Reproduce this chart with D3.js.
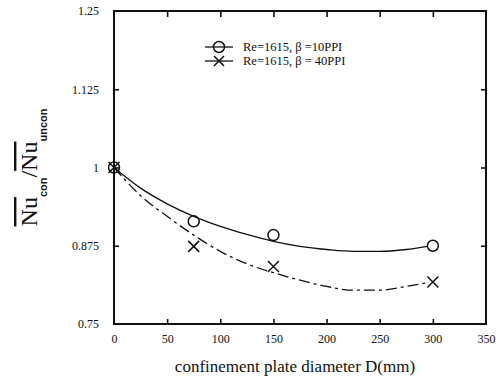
<!DOCTYPE html>
<html>
<head>
<meta charset="utf-8">
<script src="https://cdn.jsdelivr.net/npm/d3@7"></script>
<style>
  body { margin: 0; background: #fff; }
  svg text { font-family: 'Liberation Serif', 'Times New Roman', serif; fill: #111; }
</style>
</head>
<body>
<svg id="chart" width="503" height="380"></svg>
<script>
// measured points
const diameters = [0, 75, 150, 300]
const nu10ppi = [1.0, 0.914, 0.892, 0.875]
const nu40ppi = [1.0, 0.874, 0.842, 0.817]

// fitted trend lines
const fitD = [0, 25, 50, 75, 100, 125, 150, 175, 200, 225, 250, 275, 295]
const fit10ppi = [1.0, 0.967, 0.942, 0.922, 0.906, 0.893, 0.882, 0.874, 0.869, 0.866, 0.866, 0.869, 0.874]
const fit40ppi = [1.0, 0.955, 0.922, 0.892, 0.866, 0.846, 0.832, 0.820, 0.810, 0.804, 0.804, 0.810, 0.816]

const xTicks = [0, 50, 100, 150, 200, 250, 300, 350]
const yTicks = [0.75, 0.875, 1.0, 1.125, 1.25]
const yTickLabels = ['0.75', '0.875', '1', '1.125', '1.25']
const legendLabels = ['Re=1615, \u03B2 =10PPI', 'Re=1615, \u03B2 = 40PPI']

const margin = { left: 114, top: 11, right: 17, bottom: 56 }
const width = 503 - margin.left - margin.right
const height = 380 - margin.top - margin.bottom

const svg = d3.select('#chart')
const g = svg.append('g')
  .attr('transform', `translate(${margin.left}, ${margin.top})`)

const xScale = d3.scaleLinear().domain([0, 350]).range([0, width])
const yScale = d3.scaleLinear().domain([0.75, 1.25]).range([height, 0])

// axes, ticks pointing inward
const inner = [50, 100, 150, 200, 250, 300]
g.append('g')
  .attr('class', 'x axis')
  .attr('transform', `translate(0, ${height})`)
  .call(d3.axisBottom(xScale).tickValues(xTicks).tickSize(0).tickPadding(10))
  .call(a => a.select('.domain').remove())
  .selectAll('text').style('font-size', '12px')
g.append('g')
  .attr('transform', `translate(0, ${height})`)
  .call(d3.axisBottom(xScale).tickValues(inner).tickSize(-5).tickFormat(''))
  .call(a => a.select('.domain').remove())
g.append('g')
  .call(d3.axisTop(xScale).tickValues(inner).tickSize(-6).tickFormat(''))
  .call(a => a.select('.domain').remove())

g.append('g')
  .attr('class', 'y axis')
  .call(d3.axisLeft(yScale).tickValues(yTicks).tickSize(0).tickPadding(15)
    .tickFormat((d, i) => yTickLabels[i]))
  .call(a => a.select('.domain').remove())
  .selectAll('text').style('font-size', '12px')
g.append('g')
  .call(d3.axisLeft(yScale).tickValues([0.875, 1.0, 1.125]).tickSize(-5).tickFormat(''))
  .call(a => a.select('.domain').remove())
g.append('g')
  .attr('transform', `translate(${width}, 0)`)
  .call(d3.axisRight(yScale).tickValues([0.875, 1.0, 1.125]).tickSize(-5).tickFormat(''))
  .call(a => a.select('.domain').remove())

g.selectAll('.tick line').attr('stroke', '#111').attr('stroke-width', 1.6)

g.append('rect')
  .attr('width', width)
  .attr('height', height)
  .attr('fill', 'none')
  .attr('stroke', '#111')
  .attr('stroke-width', 2)

// fitted curves
const line = d3.line()
  .x((d, i) => xScale(fitD[i]))
  .y(d => yScale(d))
  .curve(d3.curveMonotoneX)

g.append('path')
  .datum(fit10ppi)
  .attr('d', line)
  .attr('fill', 'none')
  .attr('stroke', '#111')
  .attr('stroke-width', 1.3)

g.append('path')
  .datum(fit40ppi)
  .attr('d', line)
  .attr('fill', 'none')
  .attr('stroke', '#111')
  .attr('stroke-width', 1.3)
  .attr('stroke-dasharray', '11,4,3,4')

// markers
function drawCross (sel, size) {
  sel.append('path')
    .attr('d', `M${-size},${-size}L${size},${size}M${-size},${size}L${size},${-size}`)
    .attr('stroke', '#111')
    .attr('stroke-width', 1.5)
    .attr('fill', 'none')
}

g.selectAll('.circ')
  .data(nu10ppi)
  .enter()
  .append('circle')
  .attr('class', 'circ')
  .attr('cx', (d, i) => xScale(diameters[i]))
  .attr('cy', d => yScale(d))
  .attr('r', 5.5)
  .attr('fill', 'none')
  .attr('stroke', '#111')
  .attr('stroke-width', 1.5)

g.selectAll('.cross')
  .data(nu40ppi)
  .enter()
  .append('g')
  .attr('class', 'cross')
  .attr('transform', (d, i) => `translate(${xScale(diameters[i])}, ${yScale(d)})`)
  .each(function () { drawCross(d3.select(this), 5.5) })

// legend
const legend = svg.append('g').attr('transform', 'translate(205, 47)')
legendLabels.forEach((lab, i) => {
  const row = legend.append('g').attr('transform', `translate(0, ${i * 14})`)
  row.append('line')
    .attr('x1', 0).attr('x2', 28)
    .attr('stroke', '#111').attr('stroke-width', 1.3)
  if (i === 0) {
    row.append('circle').attr('cx', 14).attr('r', 5.5)
      .attr('fill', 'none').attr('stroke', '#111').attr('stroke-width', 1.5)
  } else {
    const c = row.append('g').attr('transform', 'translate(14, 0)')
    drawCross(c, 5)
  }
  row.append('text')
    .attr('x', 38)
    .attr('dy', '0.35em')
    .style('font-size', '12.5px')
    .text(lab)
})

// axis titles
svg.append('text')
  .attr('x', margin.left + width / 2 - 5)
  .attr('y', 372)
  .attr('text-anchor', 'middle')
  .style('font-size', '17px')
  .text('confinement plate diameter D(mm)')

const yTitle = svg.append('text')
  .attr('transform', `translate(37, ${margin.top + height / 2}) rotate(-90)`)
  .attr('text-anchor', 'middle')
yTitle.append('tspan').style('font-size', '24px').style('text-decoration', 'overline').text('Nu')
yTitle.append('tspan').attr('dy', 10)
  .style('font-size', '11px').style('font-weight', 'bold')
  .style('font-family', 'Liberation Sans, Arial, sans-serif').text('con')
yTitle.append('tspan').attr('dy', -10).style('font-size', '24px').text('/')
yTitle.append('tspan').style('font-size', '24px').style('text-decoration', 'overline').text('Nu')
yTitle.append('tspan').attr('dy', 10)
  .style('font-size', '11px').style('font-weight', 'bold')
  .style('font-family', 'Liberation Sans, Arial, sans-serif').text('uncon')
</script>
</body>
</html>
